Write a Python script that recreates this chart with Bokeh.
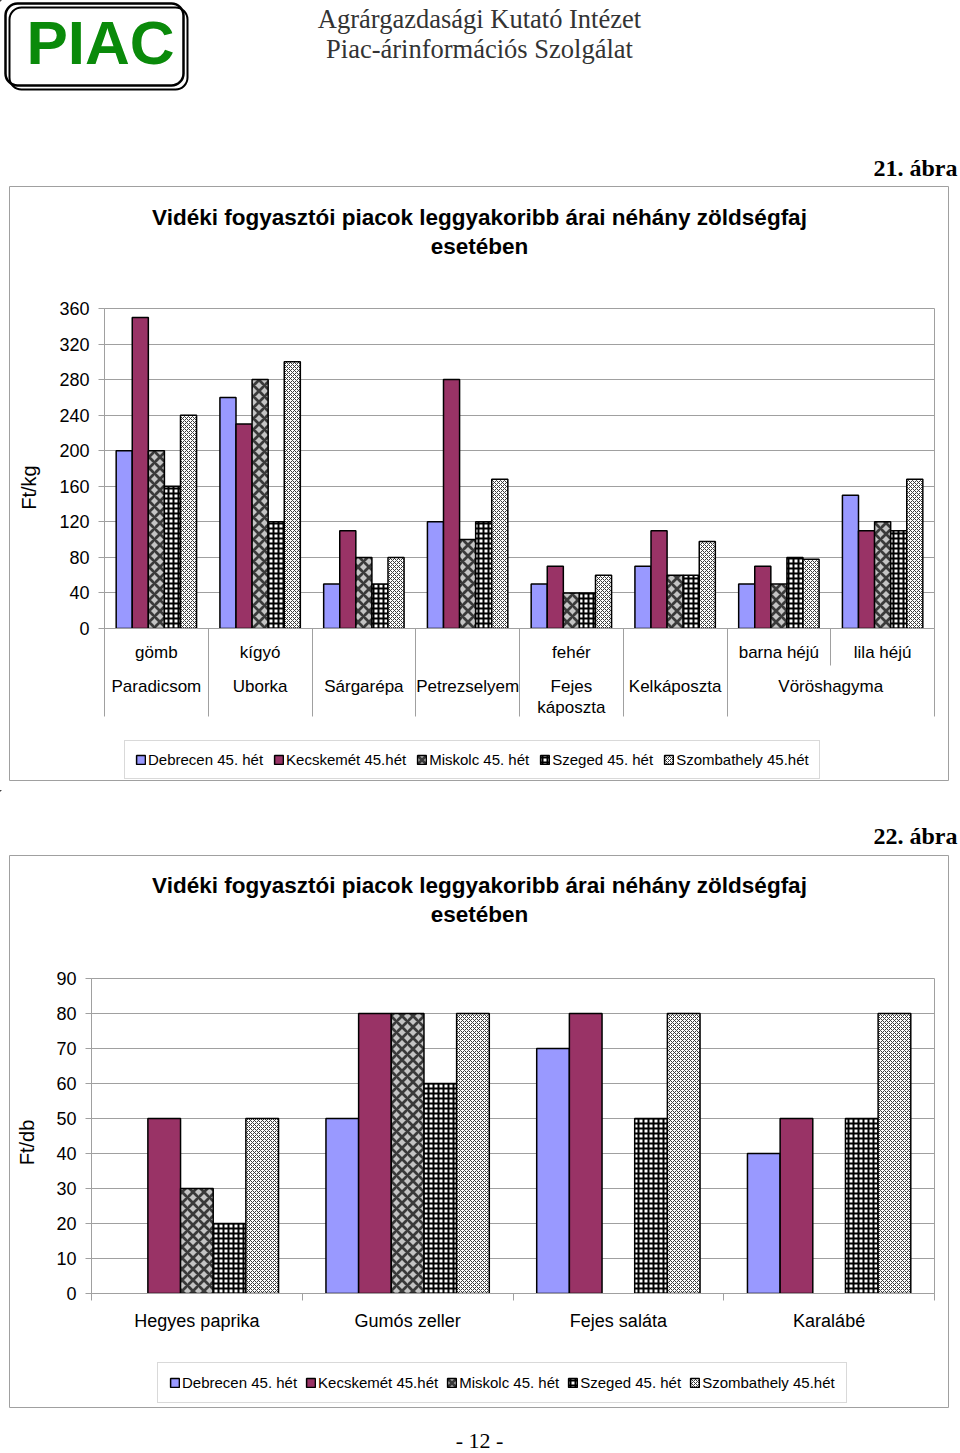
import math
from bokeh.plotting import figure
from bokeh.models import Range1d, FixedTicker, Label, Legend, LegendItem, ColumnDataSource, GridBox
from bokeh.embed import file_html
from bokeh.resources import INLINE

NAN = float("nan")
SANS = "Liberation Sans"
SERIF = "Liberation Serif"
GRID = "#a0a0a0"
W = 960

# ---------------- data ----------------
series_names = ["Debrecen 45. hét", "Kecskemét 45.hét", "Miskolc 45. hét",
                "Szeged 45. hét", "Szombathely 45.hét"]

logo_text = "PIAC"
header_lines = ["Agrárgazdasági Kutató Intézet", "Piac-árinformációs Szolgálat"]
chart_title = ["Vidéki fogyasztói piacok leggyakoribb árai néhány zöldségfaj", "esetében"]

# chart 1 (21. ábra)
fig_label1 = "21. ábra"
y_label1 = "Ft/kg"
sub_labels1 = ["gömb", "kígyó", "", "", "fehér", "", "barna héjú", "lila héjú"]
group_labels1 = ["Paradicsom", "Uborka", "Sárgarépa", "Petrezselyem", "Fejes\nkáposzta",
                 "Kelkáposzta", "Vöröshagyma"]
group_sizes1 = [1, 1, 1, 1, 1, 1, 2]
debrecen1 = [200, 260, 50, 120, 50, 70, 50, 150]
kecskemet1 = [350, 230, 110, 280, 70, 110, 70, 110]
miskolc1 = [200, 280, 80, 100, 40, 60, 50, 120]
szeged1 = [160, 120, 50, 120, 40, 60, 80, 110]
szombathely1 = [240, 300, 80, 168, 60, 98, 78, 168]
yticks1 = [0, 40, 80, 120, 160, 200, 240, 280, 320, 360]

# chart 2 (22. ábra)
fig_label2 = "22. ábra"
y_label2 = "Ft/db"
categories2 = ["Hegyes paprika", "Gumós zeller", "Fejes saláta", "Karalábé"]
debrecen2 = [NAN, 50, 70, 40]
kecskemet2 = [50, 80, 80, 50]
miskolc2 = [30, 80, NAN, NAN]
szeged2 = [20, 60, 50, 50]
szombathely2 = [50, 80, 80, 80]
yticks2 = [0, 10, 20, 30, 40, 50, 60, 70, 80, 90]

page_number = "- 12 -"

# ---------------- styles ----------------
STYLES = [
    dict(fill_color="#9999ff"),
    dict(fill_color="#993366"),
    dict(fill_color="#c4c4c4", hatch_pattern="diagonal_cross", hatch_color="#3a3a3a",
         hatch_weight=2.8, hatch_scale=11),
    dict(fill_color="white", hatch_pattern="cross", hatch_color="black",
         hatch_weight=2, hatch_scale=5),
    dict(fill_color="white", hatch_pattern="diagonal_cross", hatch_color="#3a3a3a",
         hatch_weight=1, hatch_scale=4),
]


# ---------------- helpers ----------------
def no_align(p):
    try:
        p.frame_align = False
    except Exception:
        pass


def chart_figure(h, left, right, top, bottom, ncat, ymax, yticks, xticks, xminor, major_out, minor_out):
    p = figure(width=W, height=h, output_backend="svg", toolbar_location=None,
               x_range=Range1d(0, ncat), y_range=Range1d(0, ymax),
               min_border_left=left, min_border_right=right,
               min_border_top=top, min_border_bottom=bottom)
    no_align(p)
    p.background_fill_color = None
    p.border_fill_color = None
    p.outline_line_color = GRID
    yt = FixedTicker(ticks=yticks, minor_ticks=[])
    p.yaxis.ticker = yt
    p.ygrid.ticker = yt
    p.ygrid.grid_line_color = GRID
    p.xgrid.visible = False
    p.yaxis.axis_line_color = GRID
    p.yaxis.major_tick_line_color = GRID
    p.yaxis.major_tick_out = 6
    p.yaxis.major_tick_in = 0
    p.yaxis.minor_tick_out = 0
    p.yaxis.minor_tick_in = 0
    p.yaxis.major_label_text_font = SANS
    p.yaxis.major_label_text_font_size = "18px"
    p.yaxis.major_label_text_color = "black"
    p.yaxis.major_label_standoff = 9
    xt = FixedTicker(ticks=xticks, minor_ticks=xminor)
    p.xaxis.ticker = xt
    p.xaxis.axis_line_color = GRID
    p.xaxis.major_tick_line_color = GRID
    p.xaxis.minor_tick_line_color = GRID
    p.xaxis.major_tick_out = major_out
    p.xaxis.major_tick_in = 0
    p.xaxis.minor_tick_out = minor_out
    p.xaxis.minor_tick_in = 0
    p.xaxis.major_label_text_alpha = 0
    p.xaxis.major_label_text_font_size = "1px"
    return p


def bg_figure(h, top):
    p = figure(width=W, height=h, output_backend="svg", toolbar_location=None, title=None,
               x_range=Range1d(0, W), y_range=Range1d(top + h, top),
               x_axis_type=None, y_axis_type=None, min_border=0)
    no_align(p)
    p.outline_line_color = None
    p.background_fill_color = "white"
    p.border_fill_color = "white"
    return p


def add_bars(p, values, bar_w):
    rends = []
    n = len(values[0])
    for j, (vals, st) in enumerate(zip(values, STYLES)):
        xs = [i + 0.5 + (j - 2) * bar_w for i in range(n)]
        src = ColumnDataSource(dict(x=xs, top=vals))
        r = p.vbar(x="x", top="top", bottom=0, width=bar_w, source=src,
                   line_color="black", line_width=1.5, **st)
        rends.append(r)
    return rends


def add_legend(bg, loc, spacing, padding):
    rends = []
    for st in STYLES:
        # legend-only renderer: one bar placed far outside the visible range
        rends.append(bg.vbar(x=[-5000], top=[-5000], bottom=-5001, width=1, line_color="black",
                             line_width=1.5, **st))
    items = [LegendItem(label=n, renderers=[r]) for n, r in zip(series_names, rends)]
    lg = Legend(items=items, orientation="horizontal", location=loc,
                border_line_color="#b4b4b4", border_line_width=1,
                background_fill_color="white", label_text_font=SANS,
                label_text_font_size="15px", label_text_color="black",
                glyph_width=11, glyph_height=11, label_standoff=2, spacing=spacing,
                padding=padding, margin=0)
    bg.add_layout(lg)


def txt(p, text, x, y, size, font=SANS, bold=False, align="center", color="black", angle=0.0):
    p.add_layout(Label(text=text, x=x, y=y, text_font=font, text_font_size=size,
                       text_font_style="bold" if bold else "normal",
                       text_align=align, text_baseline="middle", text_color=color,
                       angle=angle))


def rbox(p, l, t, r, b, color, width, radius=None):
    kw = dict(left=l, right=r, top=t, bottom=b, fill_color=None, line_color=color, line_width=width)
    if radius is not None:
        try:
            p.quad(border_radius=radius, **kw)
            return
        except Exception:
            pass
    p.quad(**kw)


# ---------------- part 1: header + chart 1 ----------------
H1 = 790
FX1, FR1, FT1, FB1 = 104, 934, 308, 628   # frame in page pixels
p1 = chart_figure(H1, left=FX1, right=W - FR1, top=FT1, bottom=H1 - FB1,
                  ncat=len(sub_labels1), ymax=360, yticks=yticks1,
                  xticks=[0, 1, 2, 3, 4, 5, 6, 8], xminor=[7], major_out=88, minor_out=37)
add_bars(p1, [debrecen1, kecskemet1, miskolc1, szeged1, szombathely1], 0.155)

bg1 = bg_figure(H1, 0)
rbox(bg1, 5, 3, 183, 85, "black", 2.5, radius=12)
rbox(bg1, 9, 7, 187, 89, "black", 2, radius=12)
txt(bg1, logo_text, 100, 42, "62px", bold=True, color="#0a8a0a")
txt(bg1, header_lines[0], 479, 18, "26.5px", font=SERIF, color="#333333")
txt(bg1, header_lines[1], 479, 48, "26.5px", font=SERIF, color="#333333")
rbox(bg1, 9, 186, 948, 780, GRID, 1)
txt(bg1, fig_label1, 957, 167, "24px", font=SERIF, bold=True, align="right")
txt(bg1, chart_title[0], 479, 217, "22.5px", bold=True)
txt(bg1, chart_title[1], 479, 246, "22.5px", bold=True)
txt(bg1, y_label1, 28, 487, "20px", angle=math.pi / 2)
cw1 = (FR1 - FX1) / len(sub_labels1)
for i, s in enumerate(sub_labels1):
    if s:
        txt(bg1, s, FX1 + (i + 0.5) * cw1, 652, "17px")
start = 0
for g, n in zip(group_labels1, group_sizes1):
    for k, line in enumerate(g.split("\n")):
        txt(bg1, line, FX1 + (start + n / 2) * cw1, 686 + 21 * k, "17px")
    start += n
add_legend(bg1, (124, H1 - 779), 10, 10)

# ---------------- part 2: chart 2 ----------------
TOP2 = 790
H2 = 1453 - TOP2
FX2, FR2, FT2, FB2 = 91, 934, 978, 1293
p2 = chart_figure(H2, left=FX2, right=W - FR2, top=FT2 - TOP2, bottom=TOP2 + H2 - FB2,
                  ncat=len(categories2), ymax=90, yticks=yticks2,
                  xticks=[0, 1, 2, 3, 4], xminor=[], major_out=7, minor_out=0)
add_bars(p2, [debrecen2, kecskemet2, miskolc2, szeged2, szombathely2], 0.155)

bg2 = bg_figure(H2, TOP2)
rbox(bg2, 9, 855, 948, 1407, GRID, 1)
txt(bg2, fig_label2, 957, 835, "24px", font=SERIF, bold=True, align="right")
txt(bg2, chart_title[0], 479, 885, "22.5px", bold=True)
txt(bg2, chart_title[1], 479, 914, "22.5px", bold=True)
txt(bg2, y_label2, 26, 1142, "20px", angle=math.pi / 2)
cw2 = (FR2 - FX2) / len(categories2)
for i, c in enumerate(categories2):
    txt(bg2, c, FX2 + (i + 0.5) * cw2, 1320, "18px")
add_legend(bg2, (157, TOP2 + H2 - 1403), 8, 11)
txt(bg2, page_number, 479, 1440, "22px", font=SERIF)

layout = GridBox(children=[(bg1, 0, 0), (p1, 0, 0), (bg2, 1, 0), (p2, 1, 0)], spacing=0)
open("out.html", "w").write(file_html(layout, INLINE))
